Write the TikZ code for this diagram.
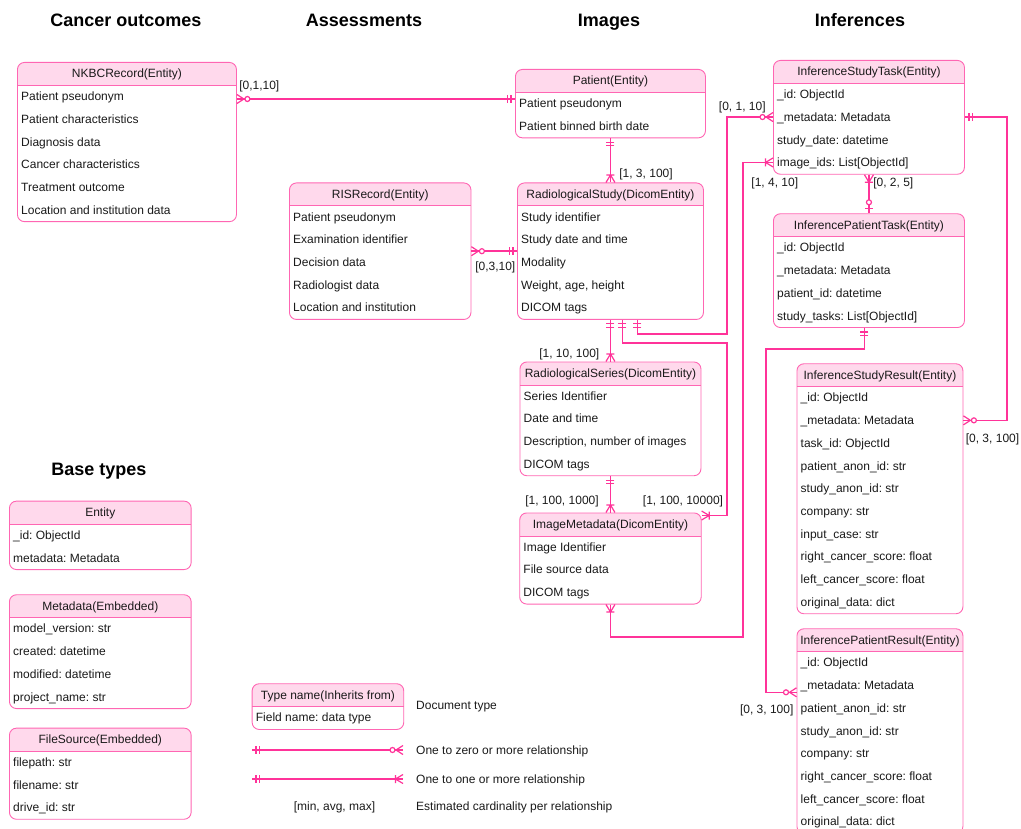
\documentclass[tikz,border=0pt]{standalone}
\usepackage{fontspec}
\setmainfont{Liberation Sans}
\frenchspacing
\usetikzlibrary{decorations.markings}
\definecolor{erRel}{HTML}{FF3399}
\definecolor{erLine}{HTML}{FF66B3}
\definecolor{erHead}{HTML}{FFD9EC}
\definecolor{erInk}{HTML}{1A1A1A}
\tikzset{
  tbl/.style={draw=erLine, line width=0.9pt, fill=white, rounded corners=7pt, anchor=north west, inner sep=0pt,
    path picture={
      \fill[erHead, sharp corners] (path picture bounding box.north west) rectangle ([yshift=-23pt]path picture bounding box.north east);
      \draw[erLine, line width=0.9pt, sharp corners] ([yshift=-23pt]path picture bounding box.north west) -- ([yshift=-23pt]path picture bounding box.north east);}},
  ttl/.style={font=\fontsize{12}{14}\selectfont, text=erInk, inner sep=0pt, text height=8.6pt, text depth=0pt},
  fld/.style={ttl, anchor=west},
  card/.style={ttl},
  hd/.style={font=\bfseries\fontsize{18}{21}\selectfont, text=black, inner sep=0pt, text height=12.9pt, text depth=0pt},
  rel/.style={draw=erRel, line width=1.5pt},
  mk/.style={draw=erRel, line width=1.2pt},
  sOne/.style={postaction={decorate, decoration={markings, mark=at position 0 with {\draw[mk] (4,-4) -- (4,4) (7.5,-4) -- (7.5,4);}}}},
  eOne/.style={postaction={decorate, decoration={markings, mark=at position 1 with {\draw[mk] (-4,-4) -- (-4,4) (-7.5,-4) -- (-7.5,4);}}}},
  sMany/.style={postaction={decorate, decoration={markings, mark=at position 0 with {\draw[mk] (0,-4.5) -- (7.5,0) -- (0,4.5) (7.5,-4) -- (7.5,4);}}}},
  eMany/.style={postaction={decorate, decoration={markings, mark=at position 1 with {\draw[mk] (0,-4.5) -- (-7.5,0) -- (0,4.5) (-7.5,-4) -- (-7.5,4);}}}},
  sZmany/.style={postaction={decorate, decoration={markings, mark=at position 0 with {\draw[mk] (0,-4.5) -- (7,0) -- (0,4.5); \draw[mk, fill=white] (10.5,0) circle[radius=2.5pt];}}}},
  eZmany/.style={postaction={decorate, decoration={markings, mark=at position 1 with {\draw[mk] (0,-4.5) -- (-7,0) -- (0,4.5); \draw[mk, fill=white] (-10.5,0) circle[radius=2.5pt];}}}},
  eZone/.style={postaction={decorate, decoration={markings, mark=at position 1 with {\draw[mk] (-4.5,-4) -- (-4.5,4); \draw[mk, fill=white] (-11,0) circle[radius=2.5pt];}}}},
}
\begin{document}
\begin{tikzpicture}[x=1pt, y=-1pt]
  \useasboundingbox (0,0) rectangle (1021,829);
  % column headings
  \node[hd] (hCancer) at (126,20) {Cancer outcomes};
  \node[hd] (hAssess) at (364,20) {Assessments};
  \node[hd] (hImages) at (609,20) {Images};
  \node[hd] (hInfer) at (860,20) {Inferences};
  \node[hd] (hBase) at (99,469) {Base types};

  % cancer outcomes
  \node[tbl, minimum width=219pt, minimum height=159.2pt] (nkbc) at (17,62) {};
  \node[ttl] (nkbc-t) at ([yshift=-11.5pt]nkbc.north) {NKBCRecord(Entity)};
  \foreach \txt [count=\i] in {Patient pseudonym, Patient characteristics, Diagnosis data, Cancer characteristics, Treatment outcome, Location and institution data}
    \node[fld] (nkbc-\i) at ([xshift=4pt, yshift=-11.65-\i*22.7]nkbc.north west) {\txt};

  % assessments
  \node[tbl, minimum width=181.5pt, minimum height=136.5pt] (ris) at (289,182.5) {};
  \node[ttl] (ris-t) at ([yshift=-11.5pt]ris.north) {RISRecord(Entity)};
  \foreach \txt [count=\i] in {Patient pseudonym, Examination identifier, Decision data, Radiologist data, Location and institution}
    \node[fld] (ris-\i) at ([xshift=4pt, yshift=-11.65-\i*22.7]ris.north west) {\txt};

  % images
  \node[tbl, minimum width=190pt, minimum height=68.4pt] (patient) at (515,69) {};
  \node[ttl] (patient-t) at ([yshift=-11.5pt]patient.north) {Patient(Entity)};
  \foreach \txt [count=\i] in {Patient pseudonym, Patient binned birth date}
    \node[fld] (patient-\i) at ([xshift=4pt, yshift=-11.65-\i*22.7]patient.north west) {\txt};

  \node[tbl, minimum width=186pt, minimum height=136.5pt] (study) at (517,182.5) {};
  \node[ttl] (study-t) at ([yshift=-11.5pt]study.north) {RadiologicalStudy(DicomEntity)};
  \foreach \txt [count=\i] in {Study identifier, Study date and time, Modality, {Weight, age, height}, DICOM tags}
    \node[fld] (study-\i) at ([xshift=4pt, yshift=-11.65-\i*22.7]study.north west) {\txt};

  \node[tbl, minimum width=181pt, minimum height=113.8pt] (series) at (519.5,361.5) {};
  \node[ttl] (series-t) at ([yshift=-11.5pt]series.north) {RadiologicalSeries(DicomEntity)};
  \foreach \txt [count=\i] in {Series Identifier, Date and time, {Description, number of images}, DICOM tags}
    \node[fld] (series-\i) at ([xshift=4pt, yshift=-11.65-\i*22.7]series.north west) {\txt};

  \node[tbl, minimum width=181.5pt, minimum height=91.1pt] (image) at (519.25,512.5) {};
  \node[ttl] (image-t) at ([yshift=-11.5pt]image.north) {ImageMetadata(DicomEntity)};
  \foreach \txt [count=\i] in {Image Identifier, File source data, DICOM tags}
    \node[fld] (image-\i) at ([xshift=4pt, yshift=-11.65-\i*22.7]image.north west) {\txt};

  % inferences
  \node[tbl, minimum width=191pt, minimum height=113.8pt] (istask) at (773,60) {};
  \node[ttl] (istask-t) at ([yshift=-11.5pt]istask.north) {InferenceStudyTask(Entity)};
  \foreach \txt [count=\i] in {\_id: ObjectId, \_metadata: Metadata, study\_date: datetime, image\_ids: List[ObjectId]}
    \node[fld] (istask-\i) at ([xshift=4pt, yshift=-11.65-\i*22.7]istask.north west) {\txt};

  \node[tbl, minimum width=191pt, minimum height=113.8pt] (iptask) at (773,213.3) {};
  \node[ttl] (iptask-t) at ([yshift=-11.5pt]iptask.north) {InferencePatientTask(Entity)};
  \foreach \txt [count=\i] in {\_id: ObjectId, \_metadata: Metadata, patient\_id: datetime, study\_tasks: List[ObjectId]}
    \node[fld] (iptask-\i) at ([xshift=4pt, yshift=-11.65-\i*22.7]iptask.north west) {\txt};

  \node[tbl, minimum width=166pt, minimum height=250pt] (isres) at (796.5,363.3) {};
  \node[ttl] (isres-t) at ([yshift=-11.5pt]isres.north) {InferenceStudyResult(Entity)};
  \foreach \txt [count=\i] in {\_id: ObjectId, \_metadata: Metadata, task\_id: ObjectId, patient\_anon\_id: str, study\_anon\_id: str, company: str, input\_case: str, right\_cancer\_score: float, left\_cancer\_score: float, original\_data: dict}
    \node[fld] (isres-\i) at ([xshift=4pt, yshift=-11.65-\i*22.7]isres.north west) {\txt};

  \node[tbl, minimum width=166pt, minimum height=204.6pt] (ipres) at (796.5,628.3) {};
  \node[ttl] (ipres-t) at ([yshift=-11.5pt]ipres.north) {InferencePatientResult(Entity)};
  \foreach \txt [count=\i] in {\_id: ObjectId, \_metadata: Metadata, patient\_anon\_id: str, study\_anon\_id: str, company: str, right\_cancer\_score: float, left\_cancer\_score: float, original\_data: dict}
    \node[fld] (ipres-\i) at ([xshift=4pt, yshift=-11.65-\i*22.7]ipres.north west) {\txt};

  % base types
  \node[tbl, minimum width=181.7pt, minimum height=68.4pt] (entity) at (9,500.7) {};
  \node[ttl] (entity-t) at ([yshift=-11.5pt]entity.north) {Entity};
  \foreach \txt [count=\i] in {\_id: ObjectId, metadata: Metadata}
    \node[fld] (entity-\i) at ([xshift=4pt, yshift=-11.65-\i*22.7]entity.north west) {\txt};

  \node[tbl, minimum width=181.7pt, minimum height=113.8pt] (meta) at (9,594.3) {};
  \node[ttl] (meta-t) at ([yshift=-11.5pt]meta.north) {Metadata(Embedded)};
  \foreach \txt [count=\i] in {model\_version: str, created: datetime, modified: datetime, project\_name: str}
    \node[fld] (meta-\i) at ([xshift=4pt, yshift=-11.65-\i*22.7]meta.north west) {\txt};

  \node[tbl, minimum width=181.7pt, minimum height=91.1pt] (fsrc) at (9,727.7) {};
  \node[ttl] (fsrc-t) at ([yshift=-11.5pt]fsrc.north) {FileSource(Embedded)};
  \foreach \txt [count=\i] in {filepath: str, filename: str, drive\_id: str}
    \node[fld] (fsrc-\i) at ([xshift=4pt, yshift=-11.65-\i*22.7]fsrc.north west) {\txt};

  % relations
  \coordinate (laneL) at (727,0);
  \coordinate (laneM) at (743,0);
  \coordinate (laneR) at (766,0);
  \coordinate (laneE) at (1007,0);
  \coordinate (nkOut) at ([yshift=-37pt]nkbc.north east);
  \coordinate (imgIn) at ([yshift=-3pt]image.north east);
  \coordinate (ipIn) at ([yshift=-64pt]ipres.north west);
  \draw[rel, sZmany, eOne] (nkOut) -- (nkOut -| patient.west);
  \draw[rel, sOne, eMany] (patient.south) -- (study.north);
  \draw[rel, sZmany, eOne] (ris.east) -- (study.west);
  \draw[rel, sOne, eMany] (study.south) -- (series.north);
  \draw[rel, sOne, eMany] (series.south) -- (image.north);
  \draw[rel, sOne, eMany] ([xshift=12pt]study.south) -- ++(0,23) -| (laneL |- imgIn) -- (imgIn);
  \draw[rel, sOne, eZmany] ([xshift=27pt]study.south) -- ++(0,14) -| (laneL |- istask-2) -- (istask.west |- istask-2);
  \draw[rel, sMany, eMany] (image.south) -- ++(0,32.5) -| (laneM |- istask-4) -- (istask.west |- istask-4);
  \draw[rel, sMany, eZone] (istask.south) -- (iptask.north);
  \draw[rel, sOne, eZmany] (istask.east |- istask-2) -| (laneE |- isres-2) -- (isres.east |- isres-2);
  \draw[rel, sOne, eZmany] ([xshift=-4.5pt]iptask.south) -- ++(0,21) -| (laneR |- ipIn) -- (ipIn);

  % cardinalities
  \node[card] (cNkbc) at (259.3,85) {[0,1,10]};
  \node[card] (cStudy) at (646,173.3) {[1, 3, 100]};
  \node[card] (cRis) at (495.3,266.7) {[0,3,10]};
  \node[card] (cSeries) at (569.3,353.3) {[1, 10, 100]};
  \node[card] (cImage) at (562,500) {[1, 100, 1000]};
  \node[card] (cImageS) at (683,500) {[1, 100, 10000]};
  \node[card] (cTask) at (742.3,106.7) {[0, 1, 10]};
  \node[card] (cImgIds) at (774.8,182.7) {[1, 4, 10]};
  \node[card] (cPTask) at (893.3,182.7) {[0, 2, 5]};
  \node[card] (cSRes) at (992.5,438.3) {[0, 3, 100]};
  \node[card] (cPRes) at (766.7,709.3) {[0, 3, 100]};

  % legend
  \node[tbl, minimum width=151.6pt, minimum height=45.7pt] (legend) at (251.7,683.3) {};
  \node[ttl] (legend-t) at ([yshift=-11.5pt]legend.north) {Type name(Inherits from)};
  \node[fld] (legend-1) at ([xshift=4pt, yshift=-34.35pt]legend.north west) {Field name: data type};
  \node[fld] (kDoc) at (416,705) {Document type};
  \coordinate (zmA) at (252,750);
  \coordinate (zmB) at (403,750);
  \draw[rel, sOne, eZmany] (zmA) -- (zmB);
  \node[fld] (kZero) at (416,750) {One to zero or more relationship};
  \coordinate (omA) at (252,779);
  \coordinate (omB) at (403,779);
  \draw[rel, sOne, eMany] (omA) -- (omB);
  \node[fld] (kOne) at (416,779) {One to one or more relationship};
  \node[card] (kCard) at (334.5,806) {[min, avg, max]};
  \node[fld] (kEst) at (416,806) {Estimated cardinality per relationship};
\end{tikzpicture}
\end{document}
